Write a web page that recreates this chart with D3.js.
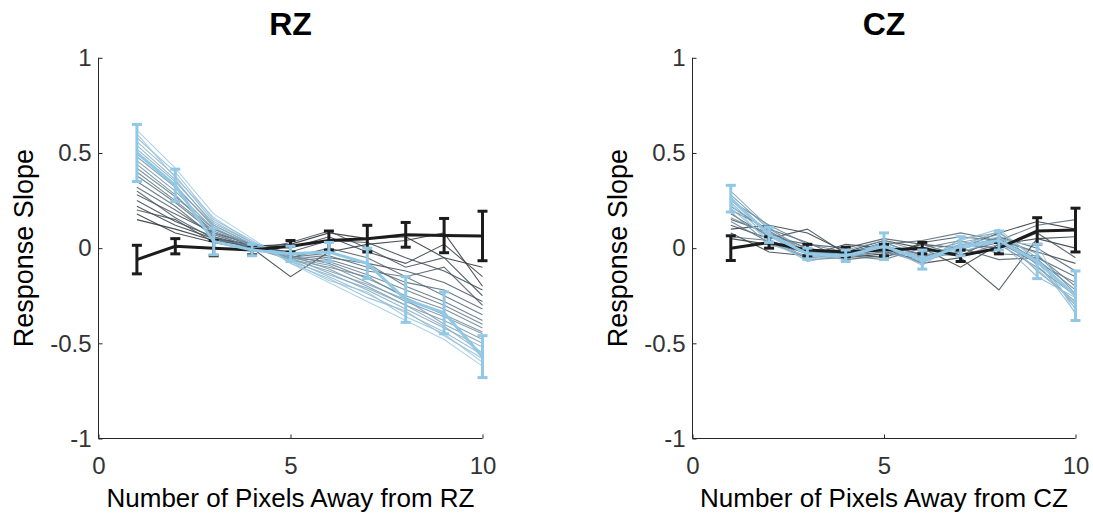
<!DOCTYPE html>
<html><head><meta charset="utf-8">
<script src="https://cdn.jsdelivr.net/npm/d3@7"></script>
<style>body{margin:0;background:#fff;} text{font-family:Arial,"Liberation Sans",sans-serif;}</style>
</head><body>
<svg id="c" width="1093" height="517"></svg>
<script>
const xs = [1,2,3,4,5,6,7,8,9,10];
const xTicks = [0,5,10];
const yTicks = [-1,-0.5,0,0.5,1];
const yTickLabels = ["-1","-0.5","0","0.5","1"];
const titles = ["RZ","CZ"];
const xLabels = ["Number of Pixels Away from RZ","Number of Pixels Away from CZ"];
const yLabel = "Response Slope";

// RZ panel
const rzBlackMean = [-0.06,0.01,0.00,-0.01,0.01,0.04,0.05,0.07,0.066,0.064];
const rzBlackErr  = [0.075,0.04,0.04,0.025,0.03,0.05,0.07,0.065,0.09,0.13];
const rzBlueMean  = [0.50,0.33,0.035,-0.01,-0.03,-0.02,-0.08,-0.27,-0.34,-0.57];
const rzBlueErr   = [0.15,0.085,0.07,0.03,0.04,0.05,0.08,0.12,0.11,0.11];
const rzLines = [
 [0.15,0.10,0.04,0.01,0.02,0.08,0.05,0.06,-0.05,-0.10],
 [0.18,0.08,0.03,0.00,-0.15,-0.02,0.02,0.04,0.08,-0.20],
 [0.22,0.12,0.05,0.02,0.00,0.06,-0.02,-0.08,0.02,-0.15],
 [0.25,0.14,0.06,0.01,-0.02,0.04,0.03,-0.05,-0.12,-0.22],
 [0.20,0.15,0.03,-0.01,0.03,0.09,0.00,-0.10,-0.05,-0.25],
 [0.28,0.18,0.08,0.02,-0.03,-0.02,-0.08,-0.12,-0.18,-0.28],
 [0.30,0.16,0.05,0.00,-0.05,0.00,-0.05,-0.15,-0.10,-0.30],
 [0.32,0.20,0.07,0.01,-0.02,-0.04,-0.10,-0.18,-0.22,-0.32],
 [0.35,0.22,0.06,0.00,-0.04,-0.06,-0.12,-0.15,-0.25,-0.35],
 [0.38,0.24,0.08,0.02,-0.03,-0.05,-0.08,-0.20,-0.28,-0.38],
 [0.40,0.25,0.09,0.01,-0.05,-0.07,-0.14,-0.22,-0.30,-0.40],
 [0.42,0.27,0.10,0.02,-0.04,-0.08,-0.16,-0.25,-0.32,-0.42],
 [0.44,0.28,0.08,0.00,-0.06,-0.10,-0.15,-0.26,-0.35,-0.44],
 [0.46,0.30,0.10,0.01,-0.05,-0.09,-0.18,-0.28,-0.36,-0.45],
 [0.48,0.32,0.12,0.02,-0.04,-0.11,-0.20,-0.30,-0.38,-0.48],
 [0.50,0.33,0.11,0.01,-0.06,-0.12,-0.19,-0.27,-0.40,-0.50],
 [0.52,0.35,0.13,0.03,-0.05,-0.13,-0.22,-0.32,-0.42,-0.52],
 [0.54,0.36,0.12,0.02,-0.07,-0.14,-0.21,-0.30,-0.41,-0.55],
 [0.56,0.38,0.14,0.03,-0.06,-0.15,-0.24,-0.34,-0.44,-0.56],
 [0.58,0.40,0.15,0.04,-0.08,-0.16,-0.26,-0.33,-0.46,-0.58],
 [0.60,0.37,0.16,0.03,-0.07,-0.17,-0.23,-0.36,-0.45,-0.60],
 [0.62,0.42,0.18,0.05,-0.08,-0.18,-0.28,-0.38,-0.48,-0.62]
];

// CZ panel
const czBlackMean = [0.00,0.03,-0.01,-0.02,-0.01,0.00,-0.04,0.00,0.09,0.095];
const czBlackErr  = [0.065,0.03,0.03,0.025,0.03,0.03,0.03,0.03,0.07,0.115];
const czBlueMean  = [0.26,0.07,-0.03,-0.04,0.01,-0.06,0.01,0.04,-0.07,-0.25];
const czBlueErr   = [0.07,0.04,0.03,0.03,0.07,0.05,0.05,0.05,0.09,0.13];
const czLines = [
 [0.05,0.02,-0.02,-0.05,-0.03,0.02,0.00,0.08,0.14,0.10],
 [0.10,0.12,0.08,-0.02,0.04,0.00,-0.10,0.02,0.05,0.00],
 [0.08,-0.02,-0.04,0.02,0.00,-0.08,-0.05,-0.22,0.05,0.06],
 [0.12,0.05,0.10,-0.03,-0.05,0.03,0.06,0.04,-0.02,-0.08],
 [0.15,0.08,0.00,-0.04,-0.02,-0.06,0.02,0.00,0.08,-0.05],
 [0.18,0.06,0.02,0.00,0.05,0.02,-0.04,0.06,0.00,-0.12],
 [0.20,0.10,0.03,-0.06,-0.04,-0.02,0.00,-0.06,-0.05,-0.15],
 [0.06,0.04,-0.03,-0.02,0.02,0.04,0.08,0.04,0.12,0.15],
 [0.22,0.09,-0.02,-0.03,0.03,-0.04,-0.02,0.03,-0.08,-0.18],
 [0.14,0.03,-0.05,-0.04,-0.06,0.00,0.04,-0.03,-0.04,-0.20],
 [0.25,0.12,0.02,-0.02,0.00,-0.05,0.01,0.05,-0.06,-0.22],
 [0.16,0.07,-0.06,-0.05,0.01,-0.03,-0.04,0.02,-0.10,-0.25],
 [0.28,0.10,-0.01,-0.05,-0.02,-0.07,-0.01,0.06,-0.03,-0.24],
 [0.19,0.02,-0.04,-0.01,0.04,-0.02,0.03,0.07,-0.12,-0.28],
 [0.30,0.11,-0.03,-0.06,0.02,-0.06,0.01,0.09,-0.09,-0.30],
 [0.24,0.05,-0.07,-0.03,-0.01,-0.08,0.05,0.08,-0.05,-0.32],
 [0.26,0.08,-0.02,-0.04,0.03,-0.05,-0.02,0.04,-0.15,-0.26],
 [0.21,0.04,-0.05,-0.02,0.01,-0.09,0.04,0.10,-0.07,-0.34],
 [0.27,0.06,-0.03,-0.05,0.00,-0.04,0.02,0.06,-0.11,-0.29],
 [0.23,0.03,-0.06,-0.03,0.02,-0.07,0.00,0.03,0.02,-0.35]
];

const panels = [
 {left:98.5, right:482.5, lines:rzLines, bm:rzBlackMean, be:rzBlackErr, lm:rzBlueMean, le:rzBlueErr},
 {left:692.5, right:1075.5, lines:czLines, bm:czBlackMean, be:czBlackErr, lm:czBlueMean, le:czBlueErr}
];
const plotTop = 57.8, plotBottom = 438.5;
const axisCol = "#262626", labCol = "#333333";
const blackCol = "#1c1c1c", blueCol = "#90c8e6";
const svg = d3.select("#c");
const lineCol = d3.interpolateRgb("#2a2f34", "#9ccbe6");

panels.forEach((p, pi) => {
  const x = d3.scaleLinear().domain([0,10]).range([p.left, p.right]);
  const y = d3.scaleLinear().domain([-1,1]).range([plotBottom, plotTop]);
  const g = svg.append("g");
  const line = d3.line().x((d,i)=>x(xs[i])).y(d=>y(d));
  const n = p.lines.length;
  p.lines.forEach((L, i) => {
    g.append("path").attr("d", line(L)).attr("fill","none")
      .attr("stroke", lineCol(i/(n-1))).attr("stroke-width",1.1).attr("stroke-opacity",0.85);
  });
  function drawMean(m, e, col) {
    g.append("path").attr("d", line(m)).attr("fill","none").attr("stroke", col).attr("stroke-width",3);
    const eb = g.append("g").attr("stroke", col).attr("stroke-width",3);
    m.forEach((v,i)=>{
      const cx = x(xs[i]);
      eb.append("line").attr("x1",cx).attr("x2",cx).attr("y1",y(v-e[i])).attr("y2",y(v+e[i]));
      eb.append("line").attr("x1",cx-5).attr("x2",cx+5).attr("y1",y(v-e[i])).attr("y2",y(v-e[i]));
      eb.append("line").attr("x1",cx-5).attr("x2",cx+5).attr("y1",y(v+e[i])).attr("y2",y(v+e[i]));
    });
  }
  drawMean(p.bm, p.be, blackCol);
  drawMean(p.lm, p.le, blueCol);

  // axes
  const xa = d3.axisBottom(x).tickValues(xTicks).tickSize(-4).tickPadding(18).tickFormat(d3.format("d"));
  const gx = svg.append("g").attr("transform",`translate(0,${plotBottom})`).call(xa);
  const ya = d3.axisLeft(y).tickValues(yTicks).tickSize(-4).tickPadding(7).tickFormat((d,i)=>yTickLabels[i]);
  const gy = svg.append("g").attr("transform",`translate(${p.left},0)`).call(ya);
  [gx,gy].forEach(a=>{
    a.select(".domain").attr("stroke",axisCol).attr("stroke-width",1);
    a.selectAll(".tick line").attr("stroke",axisCol);
    a.selectAll("text").attr("fill",labCol).style("font-size","24px").style("font-family","Arial, 'Liberation Sans', sans-serif");
  });
  gx.select(".domain").attr("d", `M${p.left},0H${p.right}`);
  gy.select(".domain").attr("d", `M0,0V${plotTop - plotBottom}`).attr("transform",`translate(0,${plotBottom})`);

  const cx = (p.left+p.right)/2;
  svg.append("text").attr("x",cx).attr("y",35).attr("text-anchor","middle")
    .style("font-size","32px").style("font-weight","bold").attr("fill","#000").text(titles[pi]);
  svg.append("text").attr("x",cx).attr("y",507).attr("text-anchor","middle")
    .style("font-size","26px").attr("fill","#000").text(xLabels[pi]);
  svg.append("text").attr("transform",`translate(${p.left-66},${(plotTop+plotBottom)/2}) rotate(-90)`)
    .attr("text-anchor","middle").style("font-size","27px").attr("fill","#000").text(yLabel);
});
</script>
</body></html>
